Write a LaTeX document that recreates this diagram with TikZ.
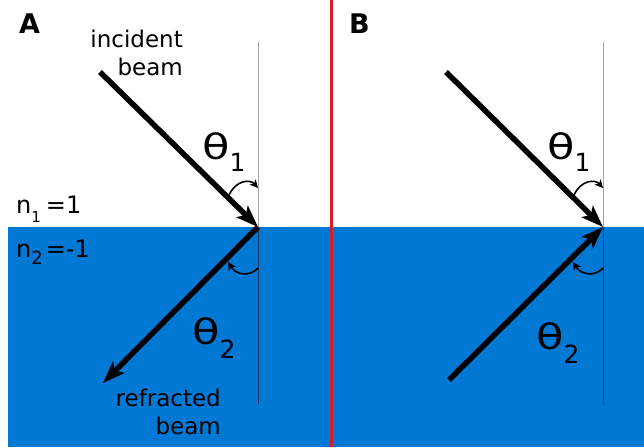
\documentclass[tikz,border=0pt]{standalone}
\usepackage{fontspec}
\setmainfont{DejaVu Sans}
\usetikzlibrary{arrows.meta}
\definecolor{water}{RGB}{0,120,212}
\definecolor{divider}{RGB}{215,30,40}
\definecolor{normup}{RGB}{165,165,165}
\definecolor{normdown}{RGB}{20,55,90}
\newcommand{\lblfont}{\fontsize{23}{28}\selectfont}
\newcommand{\thfont}{\fontsize{35}{35}\selectfont}
\newcommand{\subfont}{\fontsize{25}{25}\selectfont}
\newcommand{\nfont}{\fontsize{24}{24}\selectfont}
\newcommand{\thglyph}{\scalebox{1.28}[1]{θ}}
\begin{document}
\begin{tikzpicture}[x=1pt,y=-1pt,
  beam/.style={line width=5.5pt},
  beamtip/.style={-{Stealth[length=22pt,width=16pt,inset=5pt]}},
  anglearrow/.style={line width=1.6pt,-{Stealth[length=8pt,width=8pt,inset=2pt]}},
  normalup/.style={draw=normup,line width=0.9pt},
  normaldown/.style={draw=normdown,line width=0.9pt},
  txt/.style={inner sep=0pt,text=black},
  panel/.style={inner sep=0pt,font=\fontsize{27}{27}\selectfont\bfseries}
]
\useasboundingbox (0,0) rectangle (644,447);
\fill[white] (0,0) rectangle (644,447);
\fill[water] (8,227) rectangle (644,447);
\coordinate (Dtop) at (331,0);
\coordinate (Dbot) at (331,447);
\draw[divider,line width=3pt] (Dtop) -- (Dbot);

% ---------- panel A ----------
\coordinate (A0) at (258,227);
\coordinate (Atop) at (258,42);
\coordinate (Abot) at (258,404);
\coordinate (Ain) at (100,72);
\coordinate (Aout) at (103,383);
\draw[normalup] (Atop) -- (A0);
\draw[normaldown] (A0) -- (Abot);
\draw[beam,beamtip] (Ain) -- (A0);
\draw[beam,beamtip] (A0) -- (Aout);
\coordinate (Aa1s) at (229,195);
\coordinate (Aa1e) at (258,188);
\draw[anglearrow] (Aa1s) .. controls (236,180) and (250,179) .. (Aa1e);
\coordinate (Aa2s) at (258,268);
\coordinate (Aa2e) at (228,262);
\draw[anglearrow] (Aa2s) .. controls (250,277) and (236,275) .. (Aa2e);

\node[panel,anchor=base west] (labA) at (19,33) {A};
\node[txt,anchor=north east,align=right,font=\lblfont] (inc) at (183,30) {incident\\beam};
\node[txt,anchor=north east,align=right,font=\lblfont] (refr) at (221,389) {refracted\\beam};
\node[txt,anchor=base west] (th1A) at (202,159) {\thfont\thglyph\raisebox{-12pt}{\subfont 1}};
\node[txt,anchor=base west] (th2A) at (192,344) {\thfont\thglyph\raisebox{-14pt}{\subfont 2}};
\node[txt,anchor=base west] (n1) at (16,213) {\nfont n\raisebox{-9pt}{\fontsize{15}{15}\selectfont 1}\hspace{5pt}=1};
\node[txt,anchor=base west] (n2) at (16,257) {\nfont n\raisebox{-7pt}{\fontsize{18}{18}\selectfont 2}\hspace{3pt}=-1};

% ---------- panel B ----------
\coordinate (B0) at (603,227);
\coordinate (Btop) at (603,42);
\coordinate (Bbot) at (603,405);
\coordinate (Bin) at (446,72);
\coordinate (Bsrc) at (449,380);
\draw[normalup] (Btop) -- (B0);
\draw[normaldown] (B0) -- (Bbot);
\draw[beam,beamtip] (Bin) -- (B0);
\draw[beam,beamtip] (Bsrc) -- (B0);
\coordinate (Ba1s) at (574,195);
\coordinate (Ba1e) at (603,188);
\draw[anglearrow] (Ba1s) .. controls (581,180) and (595,179) .. (Ba1e);
\coordinate (Ba2s) at (603,268);
\coordinate (Ba2e) at (573,262);
\draw[anglearrow] (Ba2s) .. controls (595,277) and (581,275) .. (Ba2e);

\node[panel,anchor=base west] (labB) at (349,33) {B};
\node[txt,anchor=base west] (th1B) at (547,159) {\thfont\thglyph\raisebox{-12pt}{\subfont 1}};
\node[txt,anchor=base west] (th2B) at (536,349) {\thfont\thglyph\raisebox{-14pt}{\subfont 2}};
\end{tikzpicture}
\end{document}
